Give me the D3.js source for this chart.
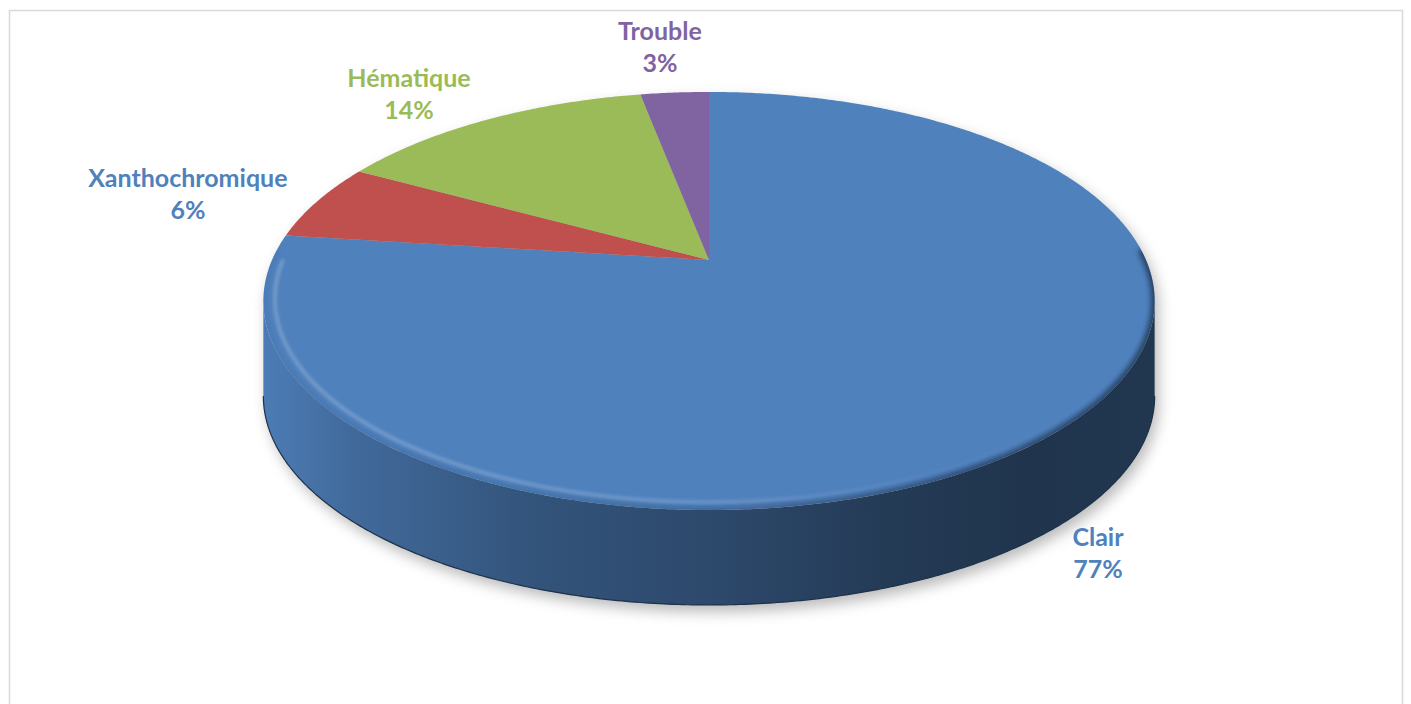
<!DOCTYPE html>
<html>
<head>
<meta charset="utf-8">
<script src="https://cdn.jsdelivr.net/npm/d3@7"></script>
<style>
  html, body { margin: 0; padding: 0; background: #ffffff; }
  svg { display: block; }
  .lbl { font-family: Lato, "Open Sans", sans-serif; font-weight: 700; font-size: 25px; text-anchor: middle; }
</style>
</head>
<body>
<svg id="chart" width="1411" height="704"></svg>
<script>
// Aspect du liquide céphalo-rachidien
const categories   = ["Clair", "Xanthochromique", "Hématique", "Trouble"];
const values       = [77, 6, 14, 3];
const sliceColors  = ["#4f81bd", "#c0504d", "#9bbb59", "#8064a2"];
const labelColors  = ["#4f81bd", "#4f81bd", "#9bbb59", "#8064a2"];

const W = 1411, H = 704;

// Tilted disc seen in perspective: centre of the disc, half-axes, perspective factor, thickness
const CX = 709, CY = 260, RX = 437, RY = 201, K = -0.196, DEPTH = 95;

// angle measured clockwise from 12 o'clock, r = fraction of radius, z = 0 top face / 1 bottom face
function proj(theta, r = 1, z = 0) {
  const u = r * Math.sin(theta), v = -r * Math.cos(theta), w = 1 + K * v;
  return [CX + RX * u / w, CY + RY * v / w + z * DEPTH];
}
function rimPoints(a0, a1, r, z) {
  const n = Math.max(2, Math.ceil(Math.abs(a1 - a0) / (Math.PI / 360)));
  return d3.range(n + 1).map(i => proj(a0 + (a1 - a0) * i / n, r, z));
}
const toPath = (pts, close = true) =>
  "M" + pts.map(p => p[0].toFixed(2) + "," + p[1].toFixed(2)).join("L") + (close ? "Z" : "");

const svg = d3.select("#chart");
const defs = svg.append("defs");

// chart area frame
svg.append("rect")
  .attr("x", 9.5).attr("y", 10.5).attr("width", 1393).attr("height", 740)
  .attr("fill", "none").attr("stroke", "#d9d9d9").attr("stroke-width", 1.5);

const data = categories.map((c, i) => ({ name: c, value: values[i], color: sliceColors[i], labelColor: labelColors[i] }));
const pie = d3.pie().sort(null).value(d => d.value).startAngle(0).endAngle(2 * Math.PI);
const arcs = pie(data);
const total = d3.sum(values);
const pct = d3.format(".0%");

// silhouette angles of the visible side wall
const thetaR = Math.acos(K), thetaL = 2 * Math.PI - thetaR;
const xLeft = proj(thetaL)[0], xRight = proj(thetaR)[0];

// filters
const blur = (id, s) => defs.append("filter").attr("id", id)
  .attr("x", "-10%").attr("y", "-10%").attr("width", "120%").attr("height", "120%")
  .append("feGaussianBlur").attr("stdDeviation", s);
blur("shadowBlur", 7);
blur("softBlur", 1.8);
blur("edgeBlur", 2.8);

// drop shadow under the disc
const outline = rimPoints(thetaL, thetaR + 2 * Math.PI, 1, 0).concat(rimPoints(thetaR, thetaL, 1, 1));
svg.append("path")
  .attr("d", toPath(outline))
  .attr("transform", "translate(4,7)")
  .attr("fill", "#8c8c8c").attr("opacity", 0.6)
  .attr("filter", "url(#shadowBlur)");

// side walls (front half only)
arcs.forEach((a, i) => {
  const s = Math.max(a.startAngle, thetaR), e = Math.min(a.endAngle, thetaL);
  if (s >= e) return;
  const base = d3.color(a.data.color);
  const grad = defs.append("linearGradient").attr("id", "side" + i)
    .attr("gradientUnits", "userSpaceOnUse")
    .attr("x1", xLeft).attr("x2", xRight).attr("y1", 0).attr("y2", 0);
  [[0, 0.12], [0.1, 0.55], [0.3, 1.2], [0.5, 1.58], [0.7, 2.2], [0.85, 2.5], [1, 2.45]]
    .forEach(([o, k]) => grad.append("stop").attr("offset", o).attr("stop-color", base.darker(k).formatHex()));
  const pts = rimPoints(s, e, 1, 0).concat(rimPoints(e, s, 1, 1));
  svg.append("path").attr("d", toPath(pts)).attr("fill", `url(#side${i})`);
  svg.append("path").attr("d", toPath(rimPoints(s, e, 1, 1), false))
    .attr("fill", "none").attr("stroke", base.darker(2.7).formatHex()).attr("stroke-width", 1.2);
});

// top face slices
arcs.forEach(a => {
  const pts = [[CX, CY]].concat(rimPoints(a.startAngle, a.endAngle, 1, 0));
  svg.append("path").attr("d", toPath(pts)).attr("fill", a.data.color);
});

// bevel of the top face: dark rounded edge and a light highlight just inside it
const topClip = defs.append("clipPath").attr("id", "topClip");
topClip.append("path").attr("d", toPath(rimPoints(0, 2 * Math.PI, 1, 0)));

const edgeGrad = defs.append("linearGradient").attr("id", "edgeGrad")
  .attr("gradientUnits", "userSpaceOnUse").attr("x1", xLeft).attr("x2", xRight).attr("y1", 0).attr("y2", 0);
[[0, 0.05], [0.5, 0.25], [0.8, 0.6], [1, 0.7]]
  .forEach(([o, op]) => edgeGrad.append("stop").attr("offset", o).attr("stop-color", "#142238").attr("stop-opacity", op));

const hlGrad = defs.append("linearGradient").attr("id", "hlGrad")
  .attr("gradientUnits", "userSpaceOnUse").attr("x1", xLeft).attr("x2", xRight).attr("y1", 0).attr("y2", 0);
[[0, 0.2], [0.45, 0.17], [0.75, 0.03], [1, 0]]
  .forEach(([o, op]) => hlGrad.append("stop").attr("offset", o).attr("stop-color", "#ffffff").attr("stop-opacity", op));

const bevel = svg.append("g").attr("clip-path", "url(#topClip)");
bevel.append("path")
  .attr("d", toPath(rimPoints(thetaR - 0.25, thetaL + 0.25, 1, 0), false))
  .attr("fill", "none").attr("stroke", "url(#edgeGrad)").attr("stroke-width", 7)
  .attr("filter", "url(#edgeBlur)");
bevel.append("path")
  .attr("d", toPath(rimPoints(thetaR - 0.15, thetaL + 0.2, 0.975, 0), false))
  .attr("fill", "none").attr("stroke", "url(#hlGrad)").attr("stroke-width", 4)
  .attr("filter", "url(#softBlur)");

// data labels: name and percentage, placed outside the rim along the slice's mid-angle
const CAP = 17.5, LINE = 32, GAP_X = 31, GAP_Y = 22;
const labels = svg.append("g");
arcs.forEach(a => {
  const mid = (a.startAngle + a.endAngle) / 2;
  const front = -Math.cos(mid) > 0;
  const rim = proj(mid, 1, front ? 1 : 0);
  const topPt = proj(mid, 1, 0);
  let dx = topPt[0] - CX, dy = topPt[1] - CY;
  const n = Math.hypot(dx, dy); dx /= n; dy /= n;
  const g = labels.append("g").attr("fill", a.data.labelColor);
  const t1 = g.append("text").attr("class", "lbl").text(a.data.name);
  const t2 = g.append("text").attr("class", "lbl").text(pct(a.value / total));
  const w = Math.max(t1.node().getComputedTextLength(), t2.node().getComputedTextLength());
  const halfW = w / 2, halfH = (CAP + LINE) / 2;
  const bx = rim[0] + dx * (GAP_X + halfW);
  const by = rim[1] + dy * (GAP_Y + halfH);
  t1.attr("x", bx).attr("y", by - halfH + CAP);
  t2.attr("x", bx).attr("y", by - halfH + CAP + LINE);
});
</script>
</body>
</html>
